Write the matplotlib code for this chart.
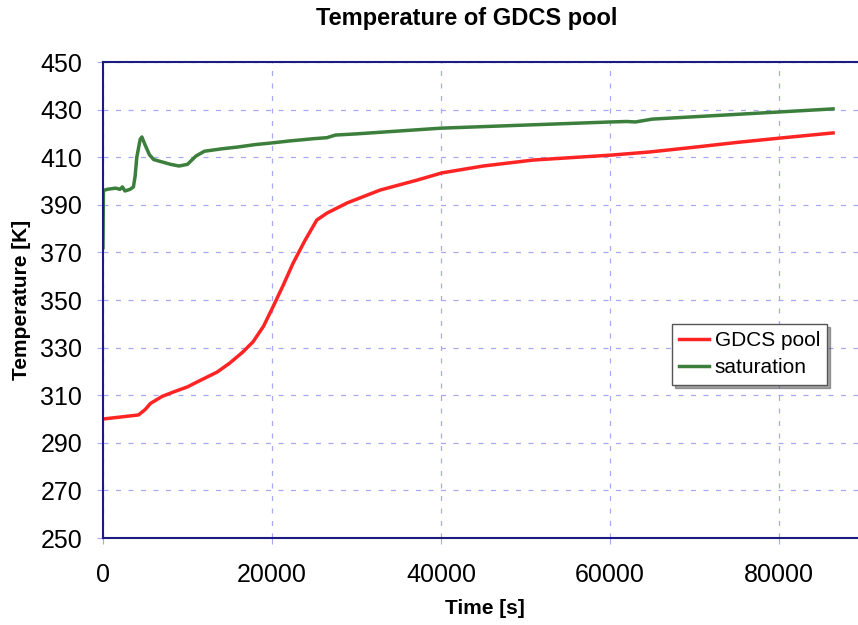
import numpy as np
import matplotlib.pyplot as plt

plt.rcParams['font.family'] = ['Liberation Sans', 'DejaVu Sans']

# GDCS pool temperature [s], [K]
pool_t = [0, 2000, 4200, 5000, 5600, 7000, 8300, 10000, 11100, 13500, 15000,
          16500, 17750, 19000, 20100, 21300, 22500, 23900, 25300, 26500, 28900,
          32800, 37200, 40100, 45000, 50900, 60200, 64700, 70000, 75000, 80300, 86400]
pool_T = [300, 300.8, 301.7, 304, 306.5, 309.5, 311.3, 313.5, 315.5, 319.7, 323.5,
          328, 332.4, 339, 347, 356, 365.5, 375, 383.6, 386.5, 390.8,
          396.2, 400.4, 403.4, 406.3, 408.8, 410.9, 412.2, 414.2, 416.2, 418.1, 420.2]

# saturation temperature
sat_t = [0, 50, 500, 1500, 2000, 2300, 2600, 3200, 3600, 3800, 4000, 4400, 4600,
         5000, 5500, 6000, 7000, 8000, 9000, 10000, 11000, 12000, 14000, 16000,
         18000, 20000, 22000, 25000, 26500, 27500, 30000, 35000, 40000, 50000,
         60000, 62000, 63000, 65000, 70000, 80000, 86400]
sat_T = [372, 396, 396.5, 397, 396.5, 397.5, 395.8, 396.5, 397.5, 402, 410, 417.5, 418.5,
         415, 411, 409, 408, 407, 406.3, 407, 410.5, 412.5, 413.5, 414.3,
         415.3, 416, 416.8, 417.8, 418.2, 419.3, 419.8, 421, 422.2, 423.5,
         424.8, 425, 424.8, 426, 427, 429, 430.3]

fig = plt.figure(figsize=(8.58, 6.25), dpi=100)
ax = fig.add_axes([103/858, 1-538/625, 760.5/858, 476/625])

ax.plot(pool_t, pool_T, color='#ff2424', lw=2.5, label='GDCS pool')
ax.plot(sat_t, sat_T, color='#3c7f3c', lw=2.5, label='saturation')

ax.set_xlim(0, 90000)
ax.set_ylim(250, 450)
ax.set_xticks(np.arange(0, 90000, 20000))
ax.set_yticks(np.arange(250, 451, 20))
ax.grid(True, color='#a8a8f4', ls=(0, (4, 6)), lw=0.9)
ax.tick_params(colors='#a8a8f4', labelcolor='black', length=4, direction='out')
ax.tick_params(axis='x', pad=14)
ax.tick_params(axis='y', pad=11)
for lab in ax.get_xticklabels() + ax.get_yticklabels():
    lab.set_fontfamily(['Liberation Sans Narrow', 'Liberation Sans'])
    lab.set_fontsize(18)
for s in ax.spines.values():
    s.set_color('#1c1c80')
    s.set_linewidth(1.5)

fig.text(467/858, 1-18/625, 'Temperature of GDCS pool', ha='center', va='center',
         fontsize=17, fontweight='bold')
fig.text(485/858, 1-608/625, 'Time [s]', ha='center', va='center', fontsize=15, fontweight='bold')
fig.text(22/858, 1-300/625, 'Temperature [K]', ha='center', va='center', rotation=90,
         fontsize=15, fontweight='bold')

leg = ax.legend(loc='lower left', bbox_to_anchor=(0.748, 0.322), fontsize=15,
                fancybox=False, shadow=True, framealpha=1, borderaxespad=0,
                handlelength=1.45, handletextpad=0.25, labelspacing=0.4, borderpad=0.35)
leg.get_frame().set_edgecolor('#555555')

fig.savefig('out.png', dpi=100)
